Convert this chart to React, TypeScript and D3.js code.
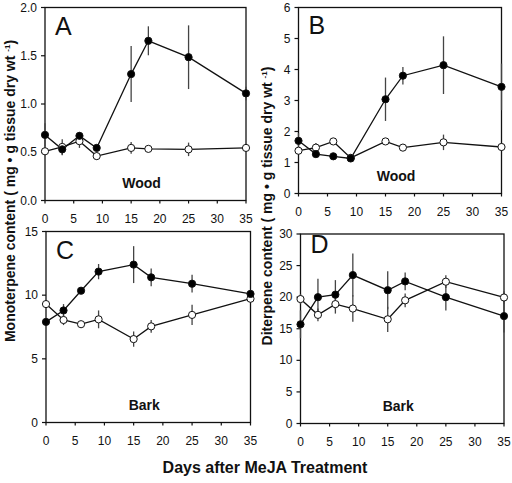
import React from "react";
import * as d3 from "d3";

const days = [0, 3, 6, 9, 15, 18, 25, 35];
const xTicks = [0, 5, 10, 15, 20, 25, 30, 35];

// Panel A: Monoterpene, wood
const aMeJA = [0.68, 0.53, 0.67, 0.545, 1.31, 1.655, 1.485, 1.11];
const aMeJAErr = [0.12, 0.06, 0.04, 0.03, 0.29, 0.15, 0.33, 0.07];
const aCtrl = [0.51, 0.555, 0.615, 0.46, 0.545, 0.535, 0.53, 0.545];
const aCtrlErr = [0.03, 0.08, 0.07, 0.04, 0.06, 0.03, 0.07, 0.03];
const aYTicks = [0, 0.5, 1.0, 1.5, 2.0];

// Panel B: Diterpene, wood
const bMeJA = [1.7, 1.27, 1.2, 1.13, 3.04, 3.8, 4.14, 3.44];
const bMeJAErr = [0.25, 0.06, 0.05, 0.06, 0.7, 0.28, 0.93, 0.75];
const bCtrl = [1.38, 1.48, 1.68, 1.15, 1.68, 1.48, 1.65, 1.5];
const bCtrlErr = [0.1, 0.15, 0.1, 0.05, 0.1, 0.06, 0.25, 0.1];
const bYTicks = [0, 1, 2, 3, 4, 5, 6];

// Panel C: Monoterpene, bark
const cMeJA = [7.9, 8.8, 10.35, 11.85, 12.4, 11.4, 10.9, 10.1];
const cMeJAErr = [0.2, 0.5, 0.2, 0.6, 1.45, 0.7, 0.7, 0.3];
const cCtrl = [9.3, 8.05, 7.72, 8.1, 6.55, 7.55, 8.45, 9.72];
const cCtrlErr = [0.3, 0.4, 0.15, 0.7, 0.6, 0.5, 0.8, 0.15];
const cYTicks = [0, 5, 10, 15];

// Panel D: Diterpene, bark
const dMeJA = [15.7, 20.0, 20.4, 23.5, 21.1, 22.5, 20.0, 17.0];
const dMeJAErr = [2.2, 2.9, 2.3, 3.4, 3.0, 1.4, 2.1, 2.6];
const dCtrl = [19.7, 17.2, 18.9, 18.2, 16.5, 19.5, 22.45, 19.95];
const dCtrlErr = [0.8, 1.0, 1.5, 2.1, 2.0, 1.1, 1.0, 1.0];
const dYTicks = [0, 5, 10, 15, 20, 25, 30];

const FONT = "'Liberation Sans', Arial, sans-serif";

type PanelProps = {
  letter: string;
  tissue: string;
  left: number;
  right: number;
  top: number;
  bottom: number;
  yMax: number;
  yTicks: number[];
  yFmt: (v: number) => string;
  meja: number[];
  mejaErr: number[];
  ctrl: number[];
  ctrlErr: number[];
  letterDy: number;
};

function Panel(p: PanelProps) {
  const x = d3.scaleLinear().domain([0, 35]).range([p.left, p.right]);
  const y = d3.scaleLinear().domain([0, p.yMax]).range([p.bottom, p.top]);
  const line = d3
    .line<number>()
    .x((_, i) => x(days[i]))
    .y((v) => y(v));
  const series = [
    { vals: p.ctrl, err: p.ctrlErr, fill: "#fff" },
    { vals: p.meja, err: p.mejaErr, fill: "#000" },
  ];
  const cx = (p.left + p.right) / 2;
  return (
    <g>
      <rect
        x={p.left}
        y={p.top}
        width={p.right - p.left}
        height={p.bottom - p.top}
        fill="none"
        stroke="#111"
        strokeWidth={1.3}
      />
      {p.yTicks.map((t) => (
        <g key={"y" + t}>
          <line x1={p.left - 4} x2={p.left} y1={y(t)} y2={y(t)} stroke="#111" strokeWidth={1.2} />
          <text
            x={p.left - 8}
            y={y(t) + 4}
            textAnchor="end"
            fontSize={12}
            fontFamily={FONT}
            fill="#111"
          >
            {p.yFmt(t)}
          </text>
        </g>
      ))}
      {xTicks.map((t) => (
        <g key={"x" + t}>
          <line x1={x(t)} x2={x(t)} y1={p.bottom} y2={p.bottom + 3} stroke="#111" strokeWidth={1.2} />
          <text
            x={x(t)}
            y={p.bottom + 22}
            textAnchor="middle"
            fontSize={12}
            fontFamily={FONT}
            fill="#111"
          >
            {t}
          </text>
        </g>
      ))}
      <text x={p.left + 10} y={p.top + p.letterDy} fontSize={25} fontFamily={FONT} fill="#111">
        {p.letter}
      </text>
      <text
        x={cx - 4}
        y={p.bottom - 13}
        textAnchor="middle"
        fontSize={14}
        fontWeight="bold"
        fontFamily={FONT}
        fill="#111"
      >
        {p.tissue}
      </text>
      {series.map((s, si) => (
        <g key={"s" + si}>
          {s.vals.map((v, i) => (
            <line
              key={"e" + i}
              x1={x(days[i])}
              x2={x(days[i])}
              y1={y(v - s.err[i])}
              y2={y(v + s.err[i])}
              stroke="#444"
              strokeWidth={1.3}
            />
          ))}
        </g>
      ))}
      {series.map((s, si) => (
        <path key={"l" + si} d={line(s.vals) || ""} fill="none" stroke="#111" strokeWidth={1.3} />
      ))}
      {series.map((s, si) => (
        <g key={"p" + si}>
          {s.vals.map((v, i) => (
            <circle
              key={"c" + i}
              cx={x(days[i])}
              cy={y(v)}
              r={3.6}
              fill={s.fill}
              stroke="#111"
              strokeWidth={1}
            />
          ))}
        </g>
      ))}
    </g>
  );
}

function YTitle({ x, y, name }: { x: number; y: number; name: string }) {
  return (
    <text
      transform={`translate(${x},${y}) rotate(-90)`}
      textAnchor="middle"
      fontSize={14}
      fontWeight="bold"
      fontFamily={FONT}
      fill="#111"
    >
      {name} content ( mg • g tissue dry wt{" "}
      <tspan fontSize={8} dy={-5}>
        -1
      </tspan>
      <tspan dy={5}>)</tspan>
    </text>
  );
}

export default function App() {
  const f1 = d3.format(".1f");
  const f0 = d3.format("d");
  return (
    <svg
      width={512}
      height={483}
      style={{ position: "absolute", left: 0, top: 0, background: "#fff" }}
    >
      <rect width={512} height={483} fill="#fff" />
      <Panel
        letter="A"
        tissue="Wood"
        left={45}
        right={246}
        top={7.5}
        bottom={200.5}
        yMax={2}
        yTicks={aYTicks}
        yFmt={f1}
        meja={aMeJA}
        mejaErr={aMeJAErr}
        ctrl={aCtrl}
        ctrlErr={aCtrlErr}
        letterDy={27}
      />
      <Panel
        letter="B"
        tissue="Wood"
        left={298.5}
        right={501.5}
        top={7.5}
        bottom={193.5}
        yMax={6}
        yTicks={bYTicks}
        yFmt={f0}
        meja={bMeJA}
        mejaErr={bMeJAErr}
        ctrl={bCtrl}
        ctrlErr={bCtrlErr}
        letterDy={26}
      />
      <Panel
        letter="C"
        tissue="Bark"
        left={46}
        right={250.5}
        top={231.5}
        bottom={422.5}
        yMax={15}
        yTicks={cYTicks}
        yFmt={f0}
        meja={cMeJA}
        mejaErr={cMeJAErr}
        ctrl={cCtrl}
        ctrlErr={cCtrlErr}
        letterDy={27}
      />
      <Panel
        letter="D"
        tissue="Bark"
        left={300.5}
        right={504}
        top={234}
        bottom={423.5}
        yMax={30}
        yTicks={dYTicks}
        yFmt={f0}
        meja={dMeJA}
        mejaErr={dMeJAErr}
        ctrl={dCtrl}
        ctrlErr={dCtrlErr}
        letterDy={19}
      />
      <YTitle x={15} y={191} name="Monoterpene" />
      <YTitle x={272} y={206} name="Diterpene" />
      <text
        x={265}
        y={473}
        textAnchor="middle"
        fontSize={16}
        fontWeight="bold"
        fontFamily={FONT}
        fill="#111"
      >
        Days after MeJA Treatment
      </text>
    </svg>
  );
}
